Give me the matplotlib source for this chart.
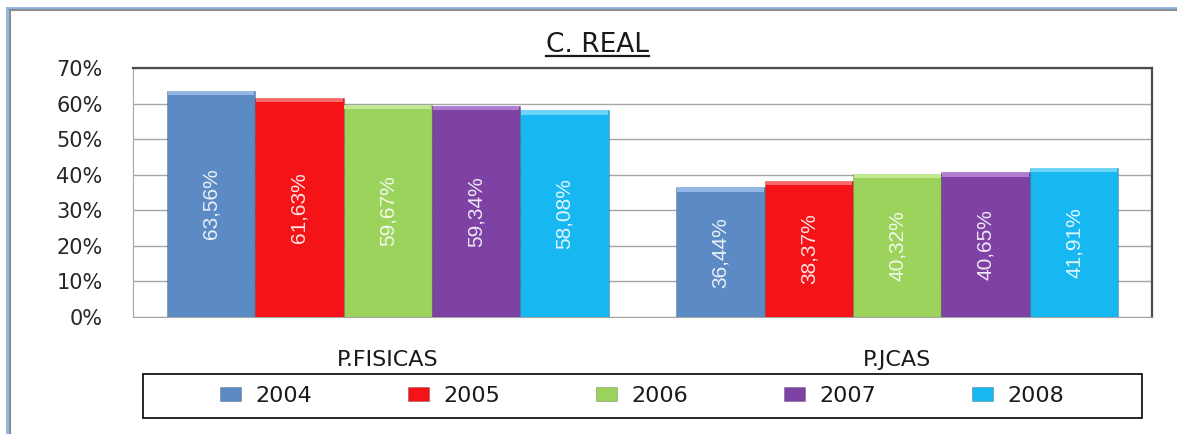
"""
C. REAL - reparto P.FISICAS / P.JCAS 2004-2008
"""

import numpy as np
import matplotlib
matplotlib.use("Agg")
import matplotlib.pyplot as plt
from matplotlib.lines import Line2D
from matplotlib.patches import Rectangle, Patch
from matplotlib.ticker import FuncFormatter

categories = ["P.FISICAS", "P.JCAS"]
years = ["2004", "2005", "2006", "2007", "2008"]
v2004 = [63.56, 36.44]
v2005 = [61.63, 38.37]
v2006 = [59.67, 40.32]
v2007 = [59.34, 40.65]
v2008 = [58.08, 41.91]
series = [v2004, v2005, v2006, v2007, v2008]

colors = ["#5B8AC5", "#F41317", "#9BD35D", "#7D42A3", "#17B8F2"]
tops = ["#9DC0EC", "#F77A7C", "#C9EE9C", "#B887DA", "#79DBFA"]

W, H = 1177, 434
fig = plt.figure(figsize=(W / 100, H / 100), dpi=100)

# marco exterior (solo arriba e izquierda visibles)
fig.add_artist(Line2D([7 / W, 1], [1 - 8 / H, 1 - 8 / H], color="#8DB3E2", lw=2))
fig.add_artist(Line2D([9 / W, 1], [1 - 10 / H, 1 - 10 / H], color="#8C8C8C", lw=1.5))
fig.add_artist(Line2D([7 / W, 7 / W], [0, 1 - 8 / H], color="#8DB3E2", lw=2))
fig.add_artist(Line2D([9.5 / W, 9.5 / W], [0, 1 - 10 / H], color="#8C8C8C", lw=1.5))

ax = fig.add_axes([133 / W, 1 - 317 / H, 1019 / W, 249 / H])

x = np.arange(len(categories))
width = 0.1735
for i, (vals, col, top) in enumerate(zip(series, colors, tops)):
    pos = x + (i - 2) * width
    ax.bar(pos, vals, width, color=col, edgecolor="#00000030", linewidth=0.8,
           zorder=3, label=years[i])
    # bisel superior
    ax.bar(pos, [1.2] * len(vals), width * 0.98, bottom=np.array(vals) - 1.2,
           color=top, linewidth=0, zorder=4, alpha=0.85)
    for px, v in zip(pos, vals):
        ax.text(px, v / 2, f"{v:.2f}%".replace(".", ","), rotation=90,
                ha="center", va="center", fontsize=15, color="white", alpha=0.88,
                family="Liberation Sans", zorder=5)

ax.set_xlim(-0.5, 1.5)
ax.set_ylim(0, 70)
ax.set_yticks(range(0, 71, 10))
ax.yaxis.set_major_formatter(FuncFormatter(lambda v, p: f"{int(v)}%"))
ax.set_xticks(x)
ax.set_xticklabels(categories)
ax.tick_params(axis="y", length=0, pad=22, labelsize=15, labelcolor="#262626")
ax.tick_params(axis="x", length=0, pad=24, labelsize=16, labelcolor="#1a1a1a")

ax.grid(axis="y", color="#A6A6A6", linewidth=1, zorder=0)
ax.spines["top"].set_color("#4D4D4D")
ax.spines["right"].set_color("#4D4D4D")
ax.spines["top"].set_linewidth(1.6)
ax.spines["right"].set_linewidth(1.6)
ax.spines["left"].set_color("#A6A6A6")
ax.spines["bottom"].set_color("#A6A6A6")

# titulo subrayado
title = fig.text(597 / W, 1 - 45 / H, "C. REAL", ha="center", va="center",
                 fontsize=19, color="#1a1a1a")
fig.canvas.draw()
bb = title.get_window_extent().transformed(fig.transFigure.inverted())
fig.add_artist(Line2D([bb.x0, bb.x1], [bb.y0 + 0.004, bb.y0 + 0.004],
                      color="#1a1a1a", lw=1.6))

# leyenda
fig.add_artist(Rectangle((143 / W, 1 - 418 / H), 999 / W, 44 / H,
                         transform=fig.transFigure, fill=False,
                         edgecolor="black", lw=1.2))
handles = [Patch(facecolor=c, edgecolor="#00000040", lw=0.6) for c in colors]
fig.legend(handles, years, loc="center", ncol=5, frameon=False,
           bbox_to_anchor=(642 / W, 1 - 396 / H), fontsize=16,
           handlelength=0.95, handleheight=0.55, handletextpad=0.65,
           columnspacing=4.3, labelcolor="#1a1a1a")

fig.savefig("out.png", dpi=100)
